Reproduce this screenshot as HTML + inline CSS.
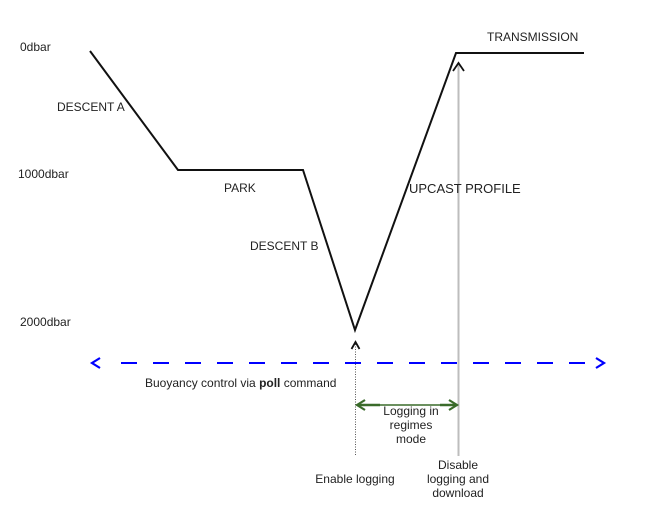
<!DOCTYPE html>
<html><head><meta charset="utf-8"><style>
html,body{margin:0;padding:0;background:#fff;}
svg{display:block;}
text{font-family:"Liberation Sans",Arial,sans-serif;font-size:12px;fill:#222;}
</style></head><body>
<svg width="655" height="519" viewBox="0 0 655 519" xmlns="http://www.w3.org/2000/svg">
<rect width="655" height="519" fill="#fff"/>
<line x1="458.5" y1="64" x2="458.5" y2="456" stroke="#bdbdbd" stroke-width="2"/>
<polyline points="453,71 458.5,63 464,71" fill="none" stroke="#111" stroke-width="1.8"/>
<polyline points="90,51 178,170 303,170 355,330 456,53 584,53" fill="none" stroke="#111" stroke-width="2"/>
<line x1="355.5" y1="344" x2="355.5" y2="456" stroke="#555" stroke-width="1" stroke-dasharray="1,1.5"/>
<polyline points="351.5,349 355.5,342 359.5,349" fill="none" stroke="#111" stroke-width="1.8"/>
<line x1="121" y1="363" x2="586" y2="363" stroke="#0000ff" stroke-width="2" stroke-dasharray="16,16"/>
<polyline points="100,358 92,363 100,368" fill="none" stroke="#0000ff" stroke-width="2.2"/>
<polyline points="596,358 604,363 596,368" fill="none" stroke="#0000ff" stroke-width="2.2"/>
<line x1="358" y1="405" x2="456" y2="405" stroke="#3a6b2a" stroke-width="1.5"/>
<line x1="358" y1="405" x2="380" y2="405" stroke="#3a6b2a" stroke-width="2.5"/>
<line x1="440" y1="405" x2="456" y2="405" stroke="#3a6b2a" stroke-width="2.5"/>
<polyline points="365,400 357,405 365,410" fill="none" stroke="#3a6b2a" stroke-width="2.2"/>
<polyline points="449,400 457,405 449,410" fill="none" stroke="#3a6b2a" stroke-width="2.2"/>
<text x="20" y="51">0dbar</text>
<text x="18" y="178">1000dbar</text>
<text x="20" y="326">2000dbar</text>
<text x="57" y="111">DESCENT A</text>
<text x="224" y="192">PARK</text>
<text x="250" y="250">DESCENT B</text>
<text x="409" y="193" style="font-size:13px">UPCAST PROFILE</text>
<text x="487" y="41">TRANSMISSION</text>
<text x="145" y="387">Buoyancy control via <tspan font-weight="bold">poll</tspan> command</text>
<text x="411" y="415" text-anchor="middle">Logging in</text>
<text x="411" y="429" text-anchor="middle">regimes</text>
<text x="411" y="443" text-anchor="middle">mode</text>
<text x="355" y="483" text-anchor="middle">Enable logging</text>
<text x="458" y="469" text-anchor="middle">Disable</text>
<text x="458" y="483" text-anchor="middle">logging and</text>
<text x="458" y="497" text-anchor="middle">download</text>
</svg>
</body></html>
